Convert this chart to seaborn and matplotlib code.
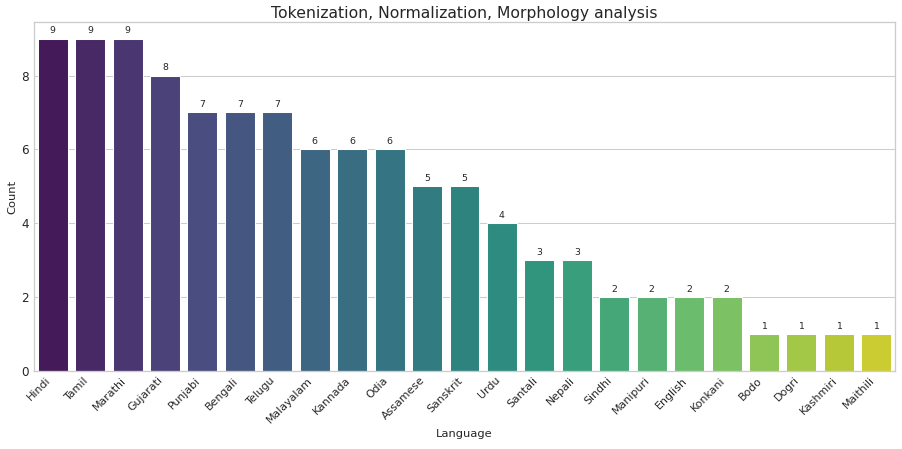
import matplotlib
matplotlib.use("Agg")
import matplotlib.pyplot as plt
import seaborn as sns
import pandas as pd

# ====================== DATA =======================
languages = ["Hindi", "Tamil", "Marathi", "Gujarati", "Punjabi", "Bengali", "Telugu",
             "Malayalam", "Kannada", "Odia", "Assamese", "Sanskrit", "Urdu", "Santali",
             "Nepali", "Sindhi", "Manipuri", "English", "Konkani", "Bodo", "Dogri",
             "Kashmiri", "Maithili"]
counts = [9, 9, 9, 8, 7, 7, 7, 6, 6, 6, 5, 5, 4, 3, 3, 2, 2, 2, 2, 1, 1, 1, 1]

df = pd.DataFrame({"Language": languages, "Count": counts})

# ====================== PLOT =======================
sns.set_theme(style="whitegrid")

fig, ax = plt.subplots(figsize=(12.027, 5.987), dpi=75)
sns.barplot(data=df, x="Language", y="Count", hue="Language",
            palette="viridis", legend=False, ax=ax)

for c in ax.containers:
    ax.bar_label(c, fmt="%d", padding=3, fontsize=9)

ax.set_title("Tokenization, Normalization, Morphology analysis", fontsize=15, pad=4)
ax.set_xlabel("Language", fontsize=11)
ax.set_ylabel("Count", fontsize=11)
ax.tick_params(axis="x", labelsize=10.5, length=0, pad=4)
ax.tick_params(axis="y", labelsize=11.5, length=0, pad=5)
plt.setp(ax.get_xticklabels(), rotation=45, ha="right")

fig.subplots_adjust(left=34 / 902, right=895 / 902, top=1 - 22 / 449, bottom=1 - 371 / 449)
fig.savefig("out.png", dpi=75)
